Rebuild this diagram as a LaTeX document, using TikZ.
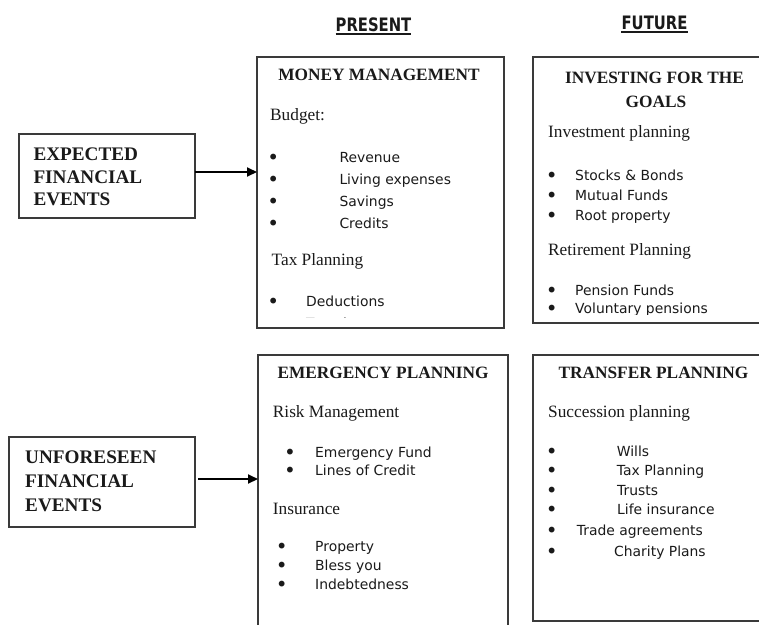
\documentclass[tikz,border=0pt]{standalone}
\usepackage{fontspec}
\setmainfont{Liberation Serif}
\newfontfamily\itemfont{DejaVu Sans}
\newfontfamily\headfont{DejaVu Sans}
\usetikzlibrary{arrows.meta,calc}
\definecolor{boxgray}{HTML}{3A3A3A}
\definecolor{ink}{HTML}{1A1A1A}
\begin{document}
\begin{tikzpicture}[x=1pt,y=-1pt,
  box/.style={draw=boxgray, line width=1.3pt, inner sep=0pt, outer sep=0pt, rectangle},
  ttl/.style={font=\bfseries\fontsize{17.3}{20}\selectfont, text=ink, anchor=base, inner sep=0pt},
  evt/.style={font=\bfseries\fontsize{19.2}{22}\selectfont, text=ink, anchor=base west, inner sep=0pt},
  lbl/.style={font=\fontsize{17.3}{20}\selectfont, text=ink, anchor=base west, inner sep=0pt},
  itm/.style={font=\itemfont\fontsize{13.9}{16}\selectfont, text=ink, anchor=base west, inner sep=0pt},
  bul/.style={font=\itemfont\fontsize{20}{22}\selectfont, text=ink, anchor=base, inner sep=0pt, yshift=-2.2pt},
  hdr/.style={font=\headfont\bfseries\fontsize{18.5}{20}\selectfont, text=ink, anchor=base, inner sep=0pt, xscale=0.8},
  uline/.style={draw=ink, line width=1.5pt},
  arr/.style={draw=black, line width=2pt, -{Triangle[length=10pt,width=9pt]}}
]
\useasboundingbox (0,0) rectangle (759,624);
\fill[white] (0,0) rectangle (759,624);

% headers
\node[hdr] (pres) at (373.5,31) {PRESENT};
\node[hdr] (fut) at (654.5,29) {FUTURE};
\draw[uline] ($(pres.base west)+(0,3)$) -- ($(pres.base east)+(0,3)$);
\draw[uline] ($(fut.base west)+(0,3)$) -- ($(fut.base east)+(0,3)$);

% boxes
\node[box, minimum width=176pt, minimum height=84pt] (exp) at (107,176) {};
\node[box, minimum width=186pt, minimum height=90pt] (unf) at (102,482) {};
\node[box, minimum width=247pt, minimum height=271pt] (mm) at (380.5,192.5) {};
\node[box, minimum width=237pt, minimum height=266pt] (inv) at (651.5,190) {};
\node[box, minimum width=250pt, minimum height=285pt] (emg) at (383,497.5) {};
\node[box, minimum width=237pt, minimum height=266pt] (trf) at (651.5,488) {};

% arrows
\draw[arr] ($(exp.east)+(0,-4)$) -- ($(exp.east -| mm.west)+(0,-4)$);
\draw[arr] ($(unf.east)+(3,-3)$) -- ($(unf.east -| emg.west)+(0,-3)$);

% left boxes text
\node[evt] (e1) at (33.3,160) {EXPECTED};
\node[evt] (e2) at (33.3,183) {FINANCIAL};
\node[evt] (e3) at (33.3,205.5) {EVENTS};
\node[evt] (u1) at (25,463) {UNFORESEEN};
\node[evt] (u2) at (25,487) {FINANCIAL};
\node[evt] (u3) at (25,511.5) {EVENTS};

% money management
\node[ttl] (mmt) at (379,80.5) {MONEY MANAGEMENT};
\node[lbl] (mb) at (270,120) {Budget:};
\node[bul] (mb1) at (273.3,162) {•}; \node[itm] (mi1) at (339.3,162) {Revenue};
\node[bul] (mb2) at (273.3,184.5) {•}; \node[itm] (mi2) at (339.3,184.5) {Living expenses};
\node[bul] (mb3) at (273.3,206.5) {•}; \node[itm] (mi3) at (339.3,206.5) {Savings};
\node[bul] (mb4) at (273.3,228) {•}; \node[itm] (mi4) at (339.3,228) {Credits};
\node[lbl] (mtp) at (271.5,265) {Tax Planning};
\node[bul] (mb5) at (273.3,306) {•}; \node[itm] (mi5) at (306,306) {Deductions};
\begin{scope}
\clip (258,58) rectangle (504,317.5);
\node[itm] (mi6) at (306,328) {Taxation};
\end{scope}

% investing
\node[ttl] (invt1) at (654.5,83) {INVESTING FOR THE};
\node[ttl] (invt2) at (656,107) {GOALS};
\node[lbl] (ip) at (548,137) {Investment planning};
\node[bul] (ib1) at (551.7,180) {•}; \node[itm] (ii1) at (575,180) {Stocks \& Bonds};
\node[bul] (ib2) at (551.7,200) {•}; \node[itm] (ii2) at (575,200) {Mutual Funds};
\node[bul] (ib3) at (551.7,220) {•}; \node[itm] (ii3) at (575,220) {Root property};
\node[lbl] (rp) at (548,255) {Retirement Planning};
\node[bul] (ib4) at (551.7,295) {•}; \node[itm] (ii4) at (575,295) {Pension Funds};
\begin{scope}
\clip (534,58) rectangle (759,314.5);
\node[bul] (ib5) at (551.7,313.3) {•}; \node[itm] (ii5) at (575,313.3) {Voluntary pensions};
\end{scope}

% emergency
\node[ttl] (emgt) at (383,378) {EMERGENCY PLANNING};
\node[lbl] (rm) at (272.7,417) {Risk Management};
\node[bul] (eb1) at (290,457) {•}; \node[itm] (ei1) at (315,457) {Emergency Fund};
\node[bul] (eb2) at (290,475.7) {•}; \node[itm] (ei2) at (315,475.7) {Lines of Credit};
\node[lbl] (ins) at (272.7,514) {Insurance};
\node[bul] (eb3) at (281.7,551.7) {•}; \node[itm] (ei3) at (315,551.7) {Property};
\node[bul] (eb4) at (281.7,570.7) {•}; \node[itm] (ei4) at (315,570.7) {Bless you};
\node[bul] (eb5) at (281.7,589) {•}; \node[itm] (ei5) at (315,589) {Indebtedness};

% transfer
\node[ttl] (trft) at (653.5,378) {TRANSFER PLANNING};
\node[lbl] (sp) at (548,417) {Succession planning};
\node[bul] (tb1) at (551.7,456.7) {•}; \node[itm] (ti1) at (616.7,456.7) {Wills};
\node[bul] (tb2) at (551.7,475.7) {•}; \node[itm] (ti2) at (616.7,475.7) {Tax Planning};
\node[bul] (tb3) at (551.7,495) {•}; \node[itm] (ti3) at (617,495) {Trusts};
\node[bul] (tb4) at (551.7,514) {•}; \node[itm] (ti4) at (617,514) {Life insurance};
\node[bul] (tb5) at (551.7,535) {•}; \node[itm] (ti5) at (576.7,535) {Trade agreements};
\node[bul] (tb6) at (551.7,556.7) {•}; \node[itm] (ti6) at (614,556.7) {Charity Plans};
\end{tikzpicture}
\end{document}
